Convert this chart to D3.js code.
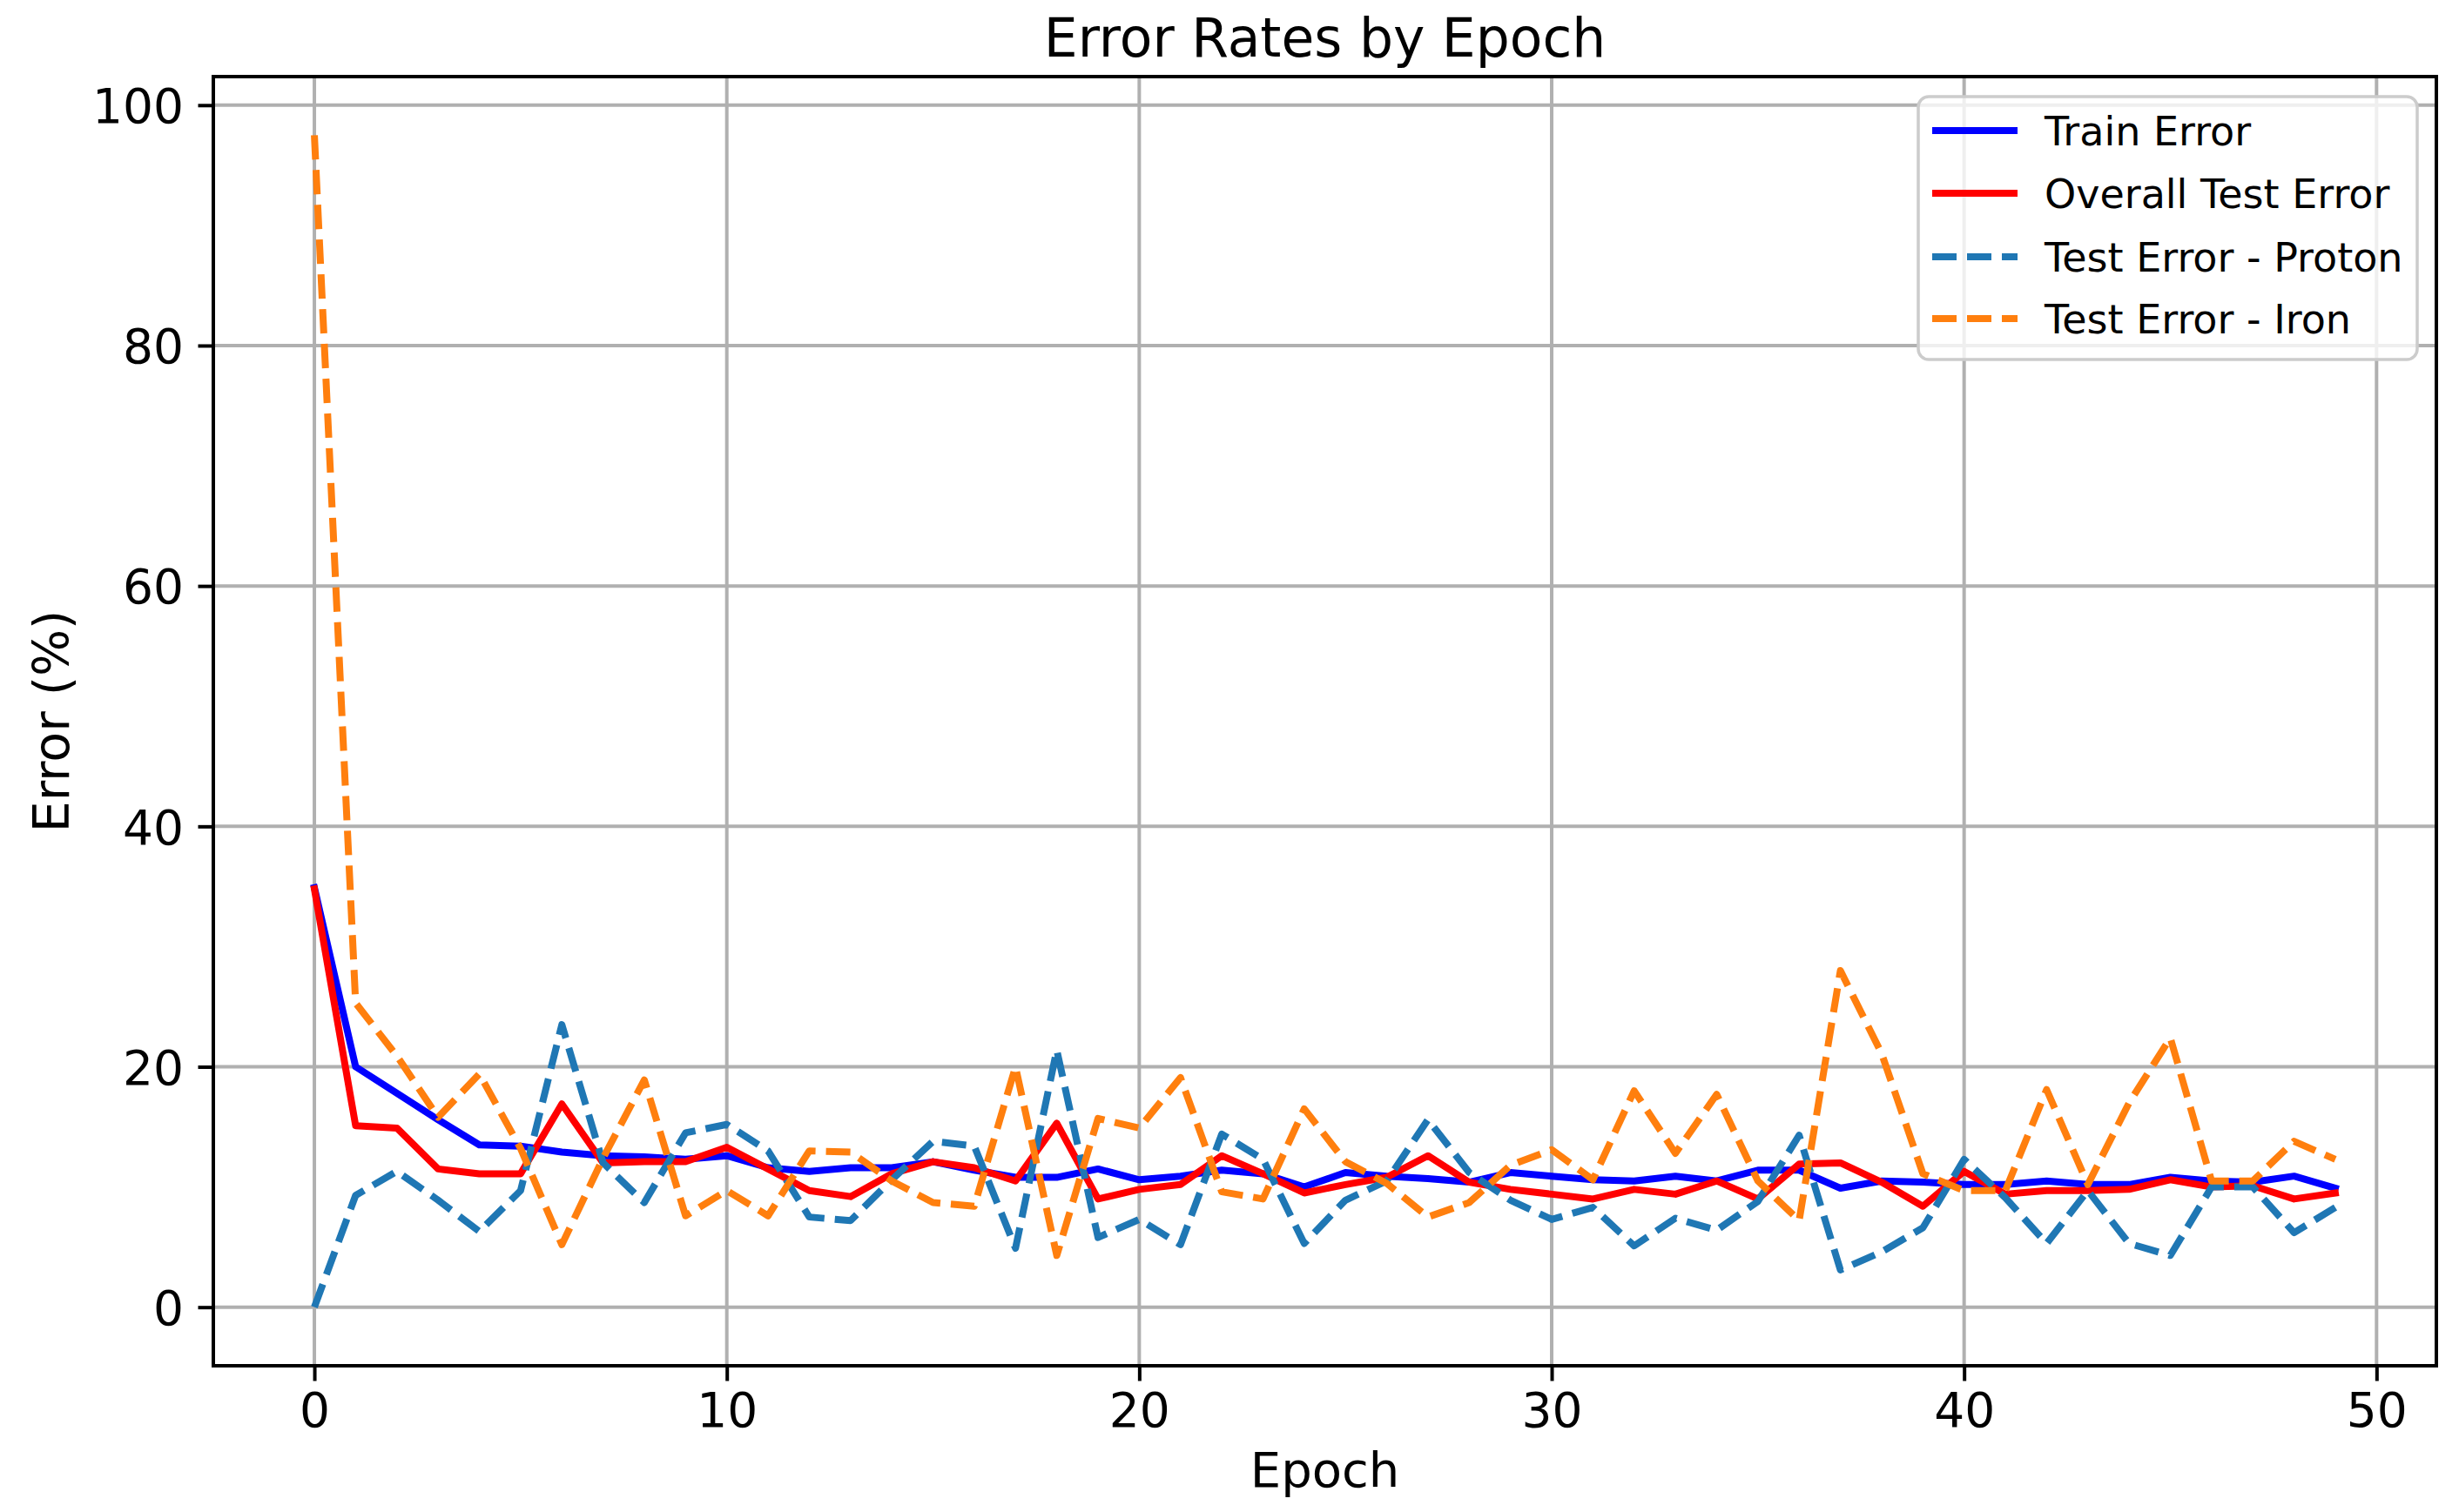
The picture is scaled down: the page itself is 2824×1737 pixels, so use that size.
<!DOCTYPE html>
<html>
<head>
<meta charset="utf-8">
<script src="https://cdn.jsdelivr.net/npm/d3@7/dist/d3.min.js"></script>
<style>
  html, body { margin: 0; padding: 0; background: #ffffff; }
  svg { display: block; }
  text { font-family: "DejaVu Sans", sans-serif; fill: #000; }
</style>
</head>
<body>
<script>
// ---------- data ----------
const epochs = d3.range(0, 50);
const trainError = [34.9, 20.0, 17.8, 15.6, 13.5, 13.4, 12.9, 12.6, 12.5, 12.3,
  12.6, 11.6, 11.3, 11.6, 11.6, 12.1, 11.4, 10.8, 10.8, 11.5,
  10.6, 10.9, 11.4, 11.1, 10.0, 11.2, 10.9, 10.7, 10.4, 11.2,
  10.9, 10.6, 10.5, 10.9, 10.5, 11.4, 11.4, 9.9, 10.5, 10.4,
  10.2, 10.2, 10.5, 10.2, 10.2, 10.8, 10.5, 10.4, 10.9, 9.9];
const overallTestError = [34.8, 15.1, 14.9, 11.5, 11.1, 11.1, 16.9, 12.0, 12.1, 12.1,
  13.3, 11.5, 9.7, 9.2, 11.1, 12.1, 11.6, 10.5, 15.3, 9.0,
  9.8, 10.2, 12.6, 11.1, 9.5, 10.2, 10.8, 12.6, 10.4, 9.8,
  9.4, 9.0, 9.8, 9.4, 10.5, 9.0, 11.9, 12.0, 10.4, 8.4,
  11.3, 9.4, 9.7, 9.7, 9.8, 10.6, 10.0, 10.1, 9.0, 9.5];
const protonError = [0.0, 9.3, 11.3, 8.9, 6.3, 9.7, 23.5, 12.0, 8.7, 14.5,
  15.2, 13.0, 7.5, 7.2, 10.6, 13.8, 13.4, 4.9, 21.4, 5.8,
  7.3, 5.2, 14.4, 12.3, 5.3, 8.9, 10.5, 15.6, 11.2, 8.9,
  7.3, 8.3, 5.1, 7.4, 6.4, 8.8, 14.3, 3.1, 4.6, 6.6,
  12.3, 9.1, 5.3, 9.7, 5.3, 4.3, 10.0, 10.0, 6.2, 8.3];
const ironError = [97.5, 25.3, 20.9, 15.8, 19.4, 13.2, 5.2, 12.4, 18.9, 7.6,
  9.7, 7.6, 13.0, 12.9, 10.5, 8.7, 8.4, 20.0, 4.3, 15.7,
  14.9, 19.1, 9.6, 9.0, 16.5, 12.1, 10.3, 7.5, 8.7, 11.8,
  13.1, 10.6, 18.0, 12.8, 17.7, 10.5, 7.2, 28.0, 21.1, 11.1,
  9.7, 9.7, 18.1, 10.2, 17.0, 22.4, 10.5, 10.5, 13.8, 12.3];

const seriesNames = ["Train Error", "Overall Test Error", "Test Error - Proton", "Test Error - Iron"];
const seriesColors = ["#0000ff", "#ff0000", "#1f77b4", "#ff7f0e"];
const seriesDashed = [false, false, true, true];
const seriesValues = [trainError, overallTestError, protonError, ironError];

const xTicks = [0, 10, 20, 30, 40, 50];
const yTicks = [0, 20, 40, 60, 80, 100];
const titleText = "Error Rates by Epoch";
const xLabelText = "Epoch";
const yLabelText = "Error (%)";

// ---------- layout ----------
const W = 2824, H = 1737;
const plot = { left: 245, right: 2798, top: 88, bottom: 1569 };
const LW = 8;
const dash = "28,12";

const svg = d3.select("body").append("svg").attr("width", W).attr("height", H);
svg.append("rect").attr("width", W).attr("height", H).attr("fill", "#fff");

// domains with matplotlib-like 5% margins
const xExt = d3.extent(epochs);
const xPad = (xExt[1] - xExt[0]) * 0.05;
const allVals = seriesValues.flat();
const yExt = d3.extent(allVals);
const yPad = (yExt[1] - yExt[0]) * 0.05;

const x = d3.scaleLinear().domain([xExt[0] - xPad, xExt[1] + xPad]).range([plot.left, plot.right]);
const y = d3.scaleLinear().domain([yExt[0] - yPad, yExt[1] + yPad]).range([plot.bottom, plot.top]);

// grid
const grid = svg.append("g");
grid.selectAll("line.gx").data(xTicks).join("line")
  .attr("x1", d => x(d)).attr("x2", d => x(d))
  .attr("y1", plot.top).attr("y2", plot.bottom)
  .attr("stroke", "#b0b0b0").attr("stroke-width", 4);
grid.selectAll("line.gy").data(yTicks).join("line")
  .attr("y1", d => y(d)).attr("y2", d => y(d))
  .attr("x1", plot.left).attr("x2", plot.right)
  .attr("stroke", "#b0b0b0").attr("stroke-width", 4);

// lines
svg.append("clipPath").attr("id", "clip").append("rect")
  .attr("x", plot.left).attr("y", plot.top)
  .attr("width", plot.right - plot.left).attr("height", plot.bottom - plot.top);

const lineGen = d3.line().x((d, i) => x(epochs[i])).y(d => y(d));
const linesG = svg.append("g").attr("clip-path", "url(#clip)");
seriesValues.forEach((vals, k) => {
  linesG.append("path")
    .attr("d", lineGen(vals))
    .attr("fill", "none")
    .attr("stroke", seriesColors[k])
    .attr("stroke-width", LW)
    .attr("stroke-linejoin", "round")
    .attr("stroke-linecap", seriesDashed[k] ? "butt" : "square")
    .attr("stroke-dasharray", seriesDashed[k] ? dash : null);
});

// axes
const xAxis = d3.axisBottom(x).tickValues(xTicks).tickSize(17.5).tickPadding(0).tickFormat(d => String(d));
const gx = svg.append("g").attr("transform", `translate(0,${plot.bottom})`).call(xAxis);
gx.select(".domain").remove();
gx.selectAll(".tick line").attr("stroke", "#000").attr("stroke-width", 4);
gx.selectAll(".tick text").attr("font-size", 55).attr("dy", null).attr("y", 70)
  .attr("font-family", "DejaVu Sans").attr("fill", "#000");

const yAxis = d3.axisLeft(y).tickValues(yTicks).tickSize(17.5).tickPadding(0).tickFormat(d => String(d));
const gy = svg.append("g").attr("transform", `translate(${plot.left},0)`).call(yAxis);
gy.select(".domain").remove();
gy.selectAll(".tick line").attr("stroke", "#000").attr("stroke-width", 4);
gy.selectAll(".tick text").attr("font-size", 55).attr("x", -34).attr("dy", "0.36em")
  .attr("font-family", "DejaVu Sans").attr("fill", "#000");

// spines
svg.append("rect")
  .attr("x", plot.left).attr("y", plot.top)
  .attr("width", plot.right - plot.left).attr("height", plot.bottom - plot.top)
  .attr("fill", "none").attr("stroke", "#000").attr("stroke-width", 4);

// title and labels
svg.append("text").attr("x", (plot.left + plot.right) / 2).attr("y", 65)
  .attr("text-anchor", "middle").attr("font-size", 61.5).text(titleText);
svg.append("text").attr("x", (plot.left + plot.right) / 2).attr("y", 1708)
  .attr("text-anchor", "middle").attr("font-size", 56).text(xLabelText);
svg.append("text")
  .attr("transform", `translate(79,${(plot.top + plot.bottom) / 2}) rotate(-90)`)
  .attr("text-anchor", "middle").attr("font-size", 57).text(yLabelText);

// legend
const leg = { x: 2203, y: 111, w: 573, h: 302 };
const lg = svg.append("g");
lg.append("rect").attr("x", leg.x).attr("y", leg.y).attr("width", leg.w).attr("height", leg.h)
  .attr("rx", 12).attr("ry", 12)
  .attr("fill", "#ffffff").attr("fill-opacity", 0.8)
  .attr("stroke", "#cccccc").attr("stroke-width", 3.5);
const rowY = [150, 222, 295, 366];
seriesNames.forEach((name, k) => {
  lg.append("line")
    .attr("x1", 2219).attr("x2", 2317)
    .attr("y1", rowY[k]).attr("y2", rowY[k])
    .attr("stroke", seriesColors[k]).attr("stroke-width", LW)
    .attr("stroke-dasharray", seriesDashed[k] ? dash : null);
  lg.append("text").attr("x", 2348).attr("y", rowY[k]).attr("dy", "0.36em")
    .attr("font-size", 46).text(name);
});
</script>
</body>
</html>
